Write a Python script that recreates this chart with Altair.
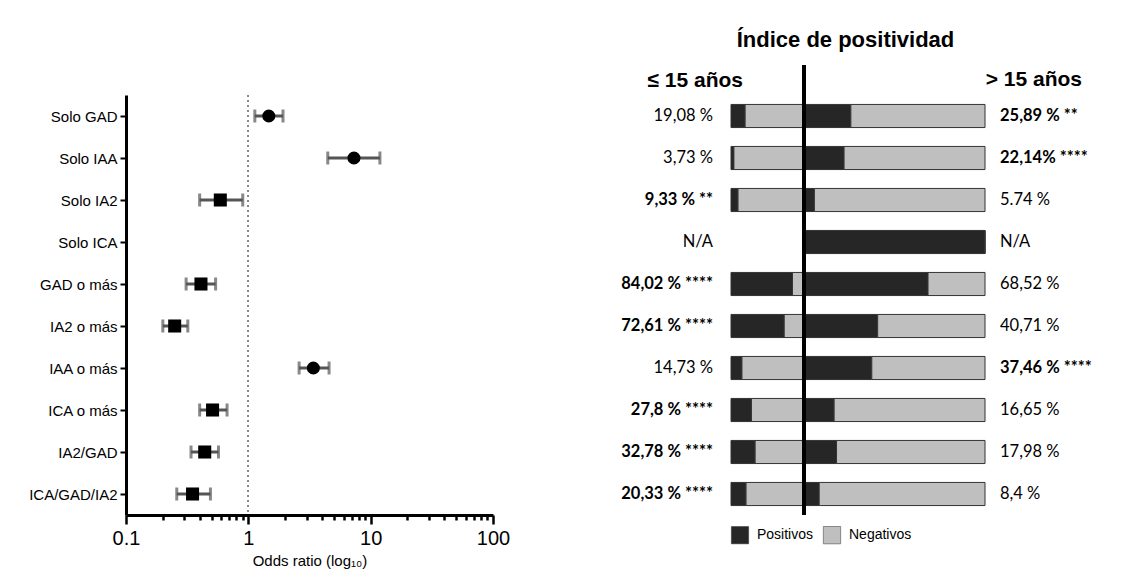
import altair as alt
import pandas as pd

# ---------------- data ----------------
categories = ["Solo GAD", "Solo IAA", "Solo IA2", "Solo ICA", "GAD o más",
              "IA2 o más", "IAA o más", "ICA o más", "IA2/GAD", "ICA/GAD/IA2"]
odds_ratio = [1.47, 7.3, 0.59, None, 0.41, 0.25, 3.4, 0.51, 0.44, 0.35]
ci_low = [1.13, 4.46, 0.40, None, 0.31, 0.20, 2.6, 0.40, 0.34, 0.26]
ci_high = [1.92, 11.9, 0.90, None, 0.54, 0.32, 4.57, 0.67, 0.57, 0.49]

x_major = [0.1, 1, 10, 100]
x_minor = [0.2, 0.3, 0.4, 0.5, 0.6, 0.7, 0.8, 0.9,
           2, 3, 4, 5, 6, 7, 8, 9,
           20, 30, 40, 50, 60, 70, 80, 90]

pos_le15 = [19.08, 3.73, 9.33, None, 84.02, 72.61, 14.73, 27.8, 32.78, 20.33]
pos_gt15 = [25.89, 22.14, 5.74, 100, 68.52, 40.71, 37.46, 16.65, 17.98, 8.4]
lab_le15 = ["19,08 %", "3,73 %", "9,33 % **", "N/A", "84,02 % ****",
            "72,61 % ****", "14,73 %", "27,8 % ****", "32,78 % ****", "20,33 % ****"]
bold_le15 = [False, False, True, False, True, True, False, True, True, True]
lab_gt15 = ["25,89 % **", "22,14% ****", "5.74 %", "N/A", "68,52 %",
            "40,71 %", "37,46 % ****", "16,65 %", "17,98 %", "8,4 %"]
bold_gt15 = [True, True, False, False, False, False, True, False, False, False]

legend_labels = ["Positivos", "Negativos"]

DARK = "#262626"
LIGHT = "#bfbfbf"
SANS = "Liberation Sans, Arial, sans-serif"
NUMF = "Lato, sans-serif"

# ---------------- forest plot ----------------
fdf = pd.DataFrame({"cat": categories, "or": odds_ratio, "lo": ci_low, "hi": ci_high})
all_ticks = sorted(x_major + x_minor)
major_test = "indexof([0.1, 1, 10, 100], datum.value) >= 0"

xscale = alt.Scale(type="log", domain=[0.1, 100], nice=False)
yenc = alt.Y("cat:N", sort=categories, scale=alt.Scale(type="point", padding=0.5, domain=categories),
             axis=alt.Axis(title=None, domainWidth=3, domainColor="black", tickWidth=2,
                           tickColor="black", tickSize=6, labelFont=SANS, labelFontSize=15,
                           labelColor="black", labelPadding=3, grid=False))
xaxis = alt.Axis(values=all_ticks, labelExpr=f"{major_test} ? format(datum.value, '.1~f') : ''",
                 tickSize=alt.condition(major_test, alt.value(9), alt.value(5)),
                 tickWidth=2.5, tickColor="black", domainWidth=3, domainColor="black",
                 labelFont=SANS, labelFontSize=20, labelColor="black", labelPadding=4,
                 labelFlush=False, labelOverlap=False, grid=False,
                 title="Odds ratio (log₁₀)", titleFont=SANS, titleFontSize=15,
                 titleFontWeight="normal", titleColor="black", titlePadding=5)

base = alt.Chart(fdf).transform_filter("isValid(datum.or)")
refline = alt.Chart(fdf).mark_rule(color="#888", strokeDash=[2, 3], strokeWidth=1.3).encode(
    x=alt.datum(1, scale=xscale, axis=xaxis))
whisk = base.mark_rule(color="#555", strokeWidth=3).encode(
    x=alt.X("lo:Q", scale=xscale, axis=xaxis), x2="hi:Q", y=yenc)
cap_lo = base.mark_tick(color="#555", thickness=3, size=13).encode(x=alt.X("lo:Q", scale=xscale), y=yenc)
cap_hi = base.mark_tick(color="#555", thickness=3, size=13).encode(x=alt.X("hi:Q", scale=xscale), y=yenc)
pts = base.transform_calculate(mk="datum.or > 1 ? 'circle' : 'square'").mark_point(
    filled=True, size=170, color="black", opacity=1).encode(
    x=alt.X("or:Q", scale=xscale), y=yenc,
    shape=alt.Shape("mk:N", scale=alt.Scale(domain=["circle", "square"], range=["circle", "square"]),
                    legend=None))
forest = alt.layer(refline, whisk, cap_lo, cap_hi, pts).properties(width=367, height=420)

# ---------------- positivity bars ----------------
bdf = pd.DataFrame({"cat": categories, "p1": pos_le15, "l1": lab_le15, "b1": bold_le15,
                    "p2": pos_gt15, "l2": lab_gt15, "b2": bold_gt15})
ybar = alt.Y("cat:N", sort=categories, axis=None,
             scale=alt.Scale(domain=categories, paddingInner=0.45, paddingOuter=0.225))
cscale = alt.Scale(domain=legend_labels, range=[DARK, LIGHT])
leg = alt.Legend(title=None, orient="bottom", direction="horizontal",
                 symbolType="square", symbolSize=300, symbolStrokeColor="#333",
                 symbolStrokeWidth=0.5, labelFont=SANS, labelFontSize=14,
                 labelColor="black", columnPadding=8, labelOffset=8, offset=11, padding=0)

lb = alt.Chart(bdf).transform_filter("isValid(datum.p1)").transform_calculate(
    n1="100 - datum.p1", full="100", zero="0", kp="'Positivos'", kn="'Negativos'")
lx = alt.Scale(domain=[0, 100], reverse=True)
l_neg = lb.mark_bar(stroke="#333", strokeWidth=1).encode(
    x=alt.X("zero:Q", scale=lx, axis=None), x2="n1:Q", y=ybar,
    color=alt.Color("kn:N", scale=cscale, legend=leg))
l_pos = lb.mark_bar(stroke="#333", strokeWidth=1).encode(
    x=alt.X("n1:Q", scale=lx), x2="full:Q", y=ybar,
    color=alt.Color("kp:N", scale=cscale, legend=leg))
l_txt_b = alt.Chart(bdf).transform_filter("datum.b1").mark_text(
    align="right", dx=-18, font=NUMF, fontSize=16.5, fontWeight="bold", color="black").encode(
    x=alt.datum(100, scale=lx), y=ybar, text="l1:N")
l_txt_n = alt.Chart(bdf).transform_filter("!datum.b1").mark_text(
    align="right", dx=-18, font=NUMF, fontSize=16.5, fontWeight="normal", color="black").encode(
    x=alt.datum(100, scale=lx), y=ybar, text="l1:N")
left_bars = alt.layer(l_neg, l_pos, l_txt_b, l_txt_n).properties(
    width=73, height=420,
    title=alt.TitleParams("≤ 15 años", anchor="end", frame="group", dx=-61, offset=4,
                          font=SANS, fontSize=21, fontWeight="bold", color="black"))

rb = alt.Chart(bdf).transform_calculate(full="100", zero="0", kp="'Positivos'", kn="'Negativos'")
rx = alt.Scale(domain=[0, 100])
r_pos = rb.mark_bar(stroke="#333", strokeWidth=1).encode(
    x=alt.X("zero:Q", scale=rx, axis=None), x2="p2:Q", y=ybar,
    color=alt.Color("kp:N", scale=cscale, legend=None))
r_neg = rb.mark_bar(stroke="#333", strokeWidth=1).encode(
    x=alt.X("p2:Q", scale=rx), x2="full:Q", y=ybar,
    color=alt.Color("kn:N", scale=cscale, legend=None))
r_txt_b = alt.Chart(bdf).transform_filter("datum.b2").mark_text(
    align="left", dx=15, font=NUMF, fontSize=16.5, fontWeight="bold", color="black").encode(
    x=alt.datum(100, scale=rx), y=ybar, text="l2:N")
r_txt_n = alt.Chart(bdf).transform_filter("!datum.b2").mark_text(
    align="left", dx=15, font=NUMF, fontSize=16.5, fontWeight="normal", color="black").encode(
    x=alt.datum(100, scale=rx), y=ybar, text="l2:N")
center = alt.Chart(bdf).mark_rule(color="black", strokeWidth=3).encode(
    x=alt.datum(0, scale=rx), y=alt.value(-30), y2=alt.value(420))
right_bars = alt.layer(r_pos, r_neg, r_txt_b, r_txt_n, center).properties(
    width=181, height=420,
    title=alt.TitleParams("> 15 años", anchor="end", frame="group", dx=97, offset=-26,
                          font=SANS, fontSize=21, fontWeight="bold", color="black"))

panel = alt.hconcat(left_bars, right_bars, spacing=0, bounds="flush").resolve_legend(
    color="independent").properties(
    title=alt.TitleParams("Índice de positividad", anchor="middle", offset=12, dx=-11,
                          font=SANS, fontSize=22, fontWeight="bold", color="black"))

chart = alt.hconcat(forest, panel, spacing=111).resolve_legend(
    color="independent", shape="independent").properties(
    padding={"left": 20, "top": 20, "right": 5, "bottom": 5}
).configure_view(stroke=None)

chart.save("out.html", embed_options={"renderer": "svg", "actions": False})
